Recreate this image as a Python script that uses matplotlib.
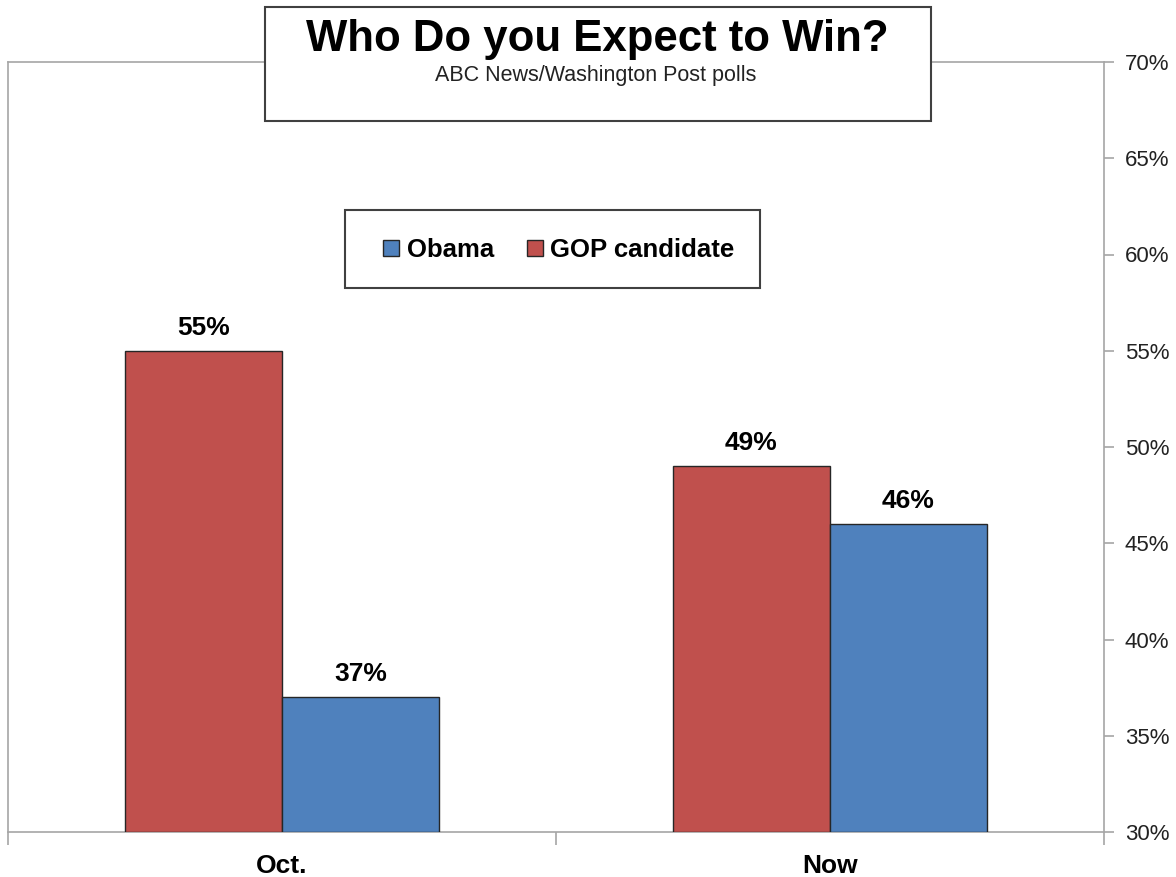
import matplotlib
matplotlib.use("Agg")
import matplotlib.pyplot as plt
from matplotlib.patches import Rectangle, Patch
import numpy as np

plt.rcParams['font.family'] = ['Liberation Sans', 'DejaVu Sans']

categories = ["Oct.", "Now"]
gop_values = [55, 49]
obama_values = [37, 46]
series_names = ["Obama", "GOP candidate"]
y_ticks = [30, 35, 40, 45, 50, 55, 60, 65, 70]
title = "Who Do you Expect to Win?"
subtitle = "ABC News/Washington Post polls"

red = "#C0504D"
blue = "#4F81BD"
gray = "#A6A6A6"

fig = plt.figure(figsize=(11.76, 8.77), dpi=100)
ax = fig.add_axes([8/1176, 1-832/877, (1104-8)/1176, (832-62)/877])

x = np.arange(len(categories))
w = 0.2865
ax.bar(x - w/2, [v - 30 for v in gop_values], w, bottom=30, color=red,
       edgecolor="#262626", linewidth=1.0, zorder=3)
ax.bar(x + w/2, [v - 30 for v in obama_values], w, bottom=30, color=blue,
       edgecolor="#262626", linewidth=1.0, zorder=3)

for xi, v in zip(x - w/2, gop_values):
    ax.annotate(f"{v}%", (xi, v), xytext=(0, 8), textcoords="offset points",
                ha="center", va="bottom", fontsize=19, fontweight="bold")
for xi, v in zip(x + w/2, obama_values):
    ax.annotate(f"{v}%", (xi, v), xytext=(0, 8), textcoords="offset points",
                ha="center", va="bottom", fontsize=19, fontweight="bold")

ax.set_xlim(-0.5, len(categories) - 0.5)
ax.set_ylim(30, 70)
ax.yaxis.tick_right()
ax.set_yticks(y_ticks)
ax.set_yticklabels([f"{t}%" for t in y_ticks], fontsize=16, color="#222222")
ax.tick_params(axis="y", direction="out", length=7, color=gray, width=1.2, pad=8)
ax.set_xticks(x)
ax.set_xticklabels(categories, fontsize=19, fontweight="bold")
ax.tick_params(axis="x", which="major", length=0, pad=16)
ax.set_xticks(np.arange(-0.5, len(categories), 1.0), minor=True)
ax.tick_params(axis="x", which="minor", direction="out", length=9, color=gray, width=1.2)
for s in ax.spines.values():
    s.set_color(gray)
    s.set_linewidth(1.2)

# Title box
fig.add_artist(Rectangle((265/1176, 1-121/877), (931-265)/1176, (121-7)/877,
                         transform=fig.transFigure, facecolor="white",
                         edgecolor="#404040", linewidth=1.5, zorder=5))
fig.text(597/1176, 1-39/877, title, ha="center", va="center", fontsize=31.5,
         fontweight="bold", zorder=6)
fig.text(596/1176, 1-76/877, subtitle, ha="center", va="center", fontsize=15.5,
         color="#222222", zorder=6)

# Legend box
fig.add_artist(Rectangle((345/1176, 1-288/877), (760-345)/1176, (288-210)/877,
                         transform=fig.transFigure, facecolor="white",
                         edgecolor="#404040", linewidth=1.5, zorder=5))
handles = [Patch(facecolor=blue, edgecolor="#262626", linewidth=1.0),
           Patch(facecolor=red, edgecolor="#262626", linewidth=1.0)]
leg = fig.legend(handles, series_names, loc="center",
                 bbox_to_anchor=(559/1176, 1-250/877), ncol=2, frameon=False,
                 prop={"weight": "bold", "size": 18.5}, handlelength=0.6,
                 handleheight=0.6, handletextpad=0.3, columnspacing=1.3)
leg.set_zorder(6)

fig.savefig("out.png", dpi=100)
